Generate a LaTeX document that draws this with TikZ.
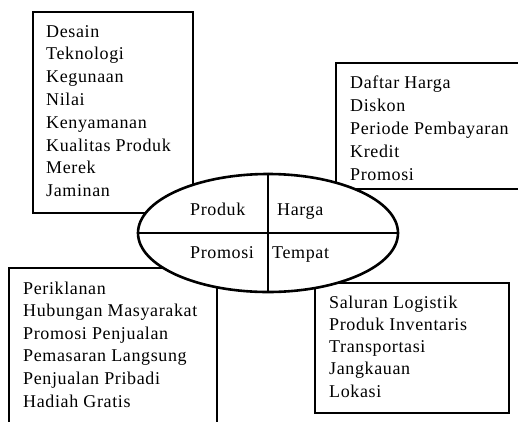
\documentclass[tikz,border=0pt]{standalone}
\usepackage{fontspec}
\setmainfont{Liberation Serif}[LetterSpace=3.5]
\usetikzlibrary{shapes.geometric}

\begin{document}
\begin{tikzpicture}[x=1pt,y=-1pt,
	kotak/.style={draw,line width=1.8pt},
	isi/.style={anchor=base west,inner sep=0pt,font=\fontsize{18}{20}\selectfont}]
	\useasboundingbox (0,0) rectangle (518,421);
	\clip (0,0) rectangle (518,421);
	% kotak daftar
	\draw[kotak] (33,12) rectangle (193,213);
	\draw[kotak] (336,63) rectangle (524,189);
	\draw[kotak] (9,268) rectangle (217,430);
	\draw[kotak] (315,283) rectangle (509,413);
	\foreach \t [count=\i from 0] in {Desain,Teknologi,Kegunaan,Nilai,Kenyamanan,Kualitas Produk,Merek,Jaminan}{
		\node[isi] (produk\i) at (46,37+22.8*\i) {\t};
	}
	\foreach \t [count=\i from 0] in {Daftar Harga,Diskon,Periode Pembayaran,Kredit,Promosi}{
		\node[isi] (harga\i) at (350,88+23*\i) {\t};
	}
	\foreach \t [count=\i from 0] in {Periklanan,Hubungan Masyarakat,Promosi Penjualan,Pemasaran Langsung,Penjualan Pribadi,Hadiah Gratis}{
		\node[isi] (promosi\i) at (23,294+22.6*\i) {\t};
	}
	\foreach \t [count=\i from 0] in {Saluran Logistik,Produk Inventaris,Transportasi,Jangkauan,Lokasi}{
		\node[isi] (tempat\i) at (329,308+22.3*\i) {\t};
	}
	% elips bauran
	\node[ellipse,draw,fill=white,line width=2.6pt,minimum width=260,minimum height=118] (bauran) at (268,233) {};
	\draw[line width=2pt] (bauran.north) -- (bauran.south);
	\draw[line width=2pt] (bauran.west) -- (bauran.east);
	\node[isi] (p) at (190,215) {Produk};
	\node[isi] (h) at (277,215) {Harga};
	\node[isi] (pr) at (190,258) {Promosi};
	\node[isi] (t) at (272,258) {Tempat};
\end{tikzpicture}
\end{document}
